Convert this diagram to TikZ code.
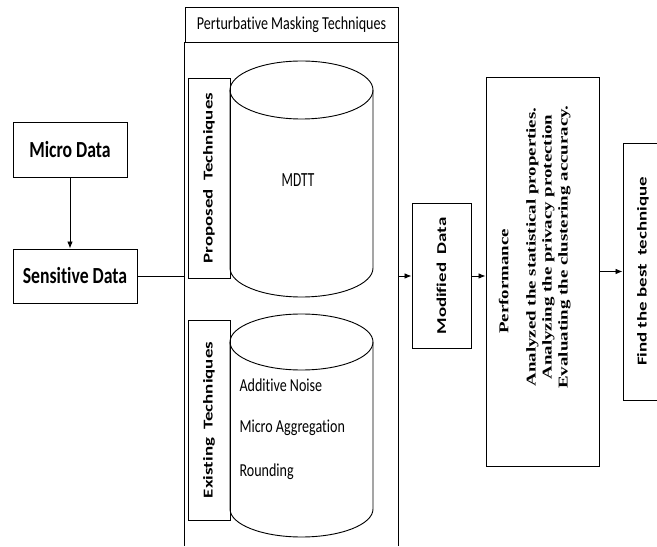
\documentclass[tikz,border=0pt]{standalone}
\usepackage{fontspec}
\setmainfont{Carlito}[Ligatures=CommonOff]
\newfontfamily\timesbold{Liberation Serif}
\usetikzlibrary{arrows.meta,positioning,calc}

% the source picture is stretched along y, so the texts are too
\newcommand{\vtext}[1]{\rotatebox{90}{\scalebox{1.4}[1]{#1}}}
\newcommand{\htext}[1]{\scalebox{1}[1.3]{#1}}

\begin{document}
\begin{tikzpicture}[line width=0.65pt,
  databox/.style={draw, inner sep=0pt},
  arr/.style={-{Latex[length=5pt,width=4pt]}},
  every node/.style={font=\fontsize{10}{12}\selectfont}]
\useasboundingbox (0,0) rectangle (16.425,13.65);

% input side
\node[databox, minimum width=2.85cm, minimum height=1.375cm,
  font=\fontsize{12.6}{15}\selectfont\bfseries] (micro) at (1.75,9.91) {\htext{Micro Data}};
\node[databox, minimum width=3.1cm, minimum height=1.35cm,
  font=\fontsize{12.6}{15}\selectfont\bfseries] (sens) at (1.875,6.75) {\htext{Sensitive Data}};
\draw[arr] (micro) -- (micro |- sens.north);

% masking techniques frame
\node[databox, minimum width=5.325cm, minimum height=0.875cm,
  font=\fontsize{10}{12}\selectfont] (title) at (7.2875,13.0375) {\htext{Perturbative Masking Techniques}};
\draw (title.south west) -- (title.south west |- 0,0);
\draw (title.south east) -- (title.south east |- 0,0);

\node[databox, minimum width=1.05cm, minimum height=5cm,
  font=\fontsize{9.6}{11.4}\selectfont\bfseries] (prop) at (5.225,9.2) {\vtext{Proposed\ \ Techniques}};
\draw (7.5375,11.4) ellipse (1.7875 and 0.725);
\draw (5.75,11.4) -- (5.75,6.95) arc (180:360:1.7875 and 0.725) -- (9.325,11.4);
\node[font=\fontsize{9.5}{11}\selectfont] (mdtt) at (7.45,9.15) {\scalebox{1}[1.5]{MDTT}};

\node[databox, minimum width=1.05cm, minimum height=5cm,
  font=\fontsize{9.6}{11.4}\selectfont\bfseries] (exist) at (5.225,3.15) {\vtext{Existing\ \ Techniques}};
\draw (7.5375,5.1) ellipse (1.7875 and 0.7);
\draw (5.75,5.1) -- (5.75,0.925) arc (180:360:1.7875 and 0.7) -- (9.325,5.1);
\node[anchor=west] (noise) at (5.86,4.025) {\htext{Additive Noise}};
\node[anchor=west] (aggr) at (5.86,2.95) {\htext{Micro Aggregation}};
\node[anchor=west] (round) at (5.86,1.85) {\htext{Rounding}};

% output side
\node[databox, minimum width=1.475cm, minimum height=3.625cm,
  font=\fontsize{9.6}{11.4}\selectfont\bfseries] (mod) at (11.0375,6.75) {\vtext{Modified\ \ Data}};
\node[databox, minimum width=2.825cm, minimum height=9.725cm,
  font=\timesbold\fontsize{9.6}{11.4}\selectfont\bfseries] (perf) at (13.5625,6.8625)
  {\vtext{\begin{tabular}{@{}c@{}}Performance\hspace*{0.35cm}\\[8pt]
   \hspace*{0.875cm}Analyzed the statistical properties.\\
   \hspace*{0.875cm}Analyzing the privacy protection\\
   \hspace*{0.875cm}Evaluating the clustering accuracy.\\[11pt]\end{tabular}}};
\node[databox, minimum width=1.0cm, minimum height=6.425cm,
  font=\fontsize{9.6}{11.4}\selectfont\bfseries] (find) at (16.075,6.8625) {\vtext{Find the best\ \ technique}};

\coordinate (inL) at (title.south west |- sens.east);
\coordinate (outR) at (title.south east |- sens.east);
\draw (sens.east) -- (inL);
\draw[arr] (outR) -- (mod.west);
\draw[arr] (mod.east) -- (mod.east -| perf.west);
\draw[arr] (perf.east) -- (find.west);
\end{tikzpicture}
\end{document}
